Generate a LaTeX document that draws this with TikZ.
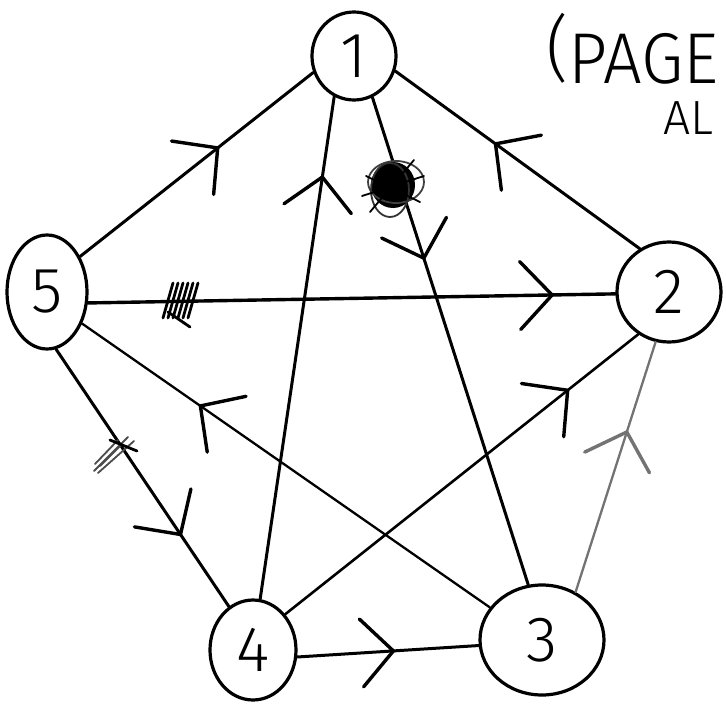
\documentclass[tikz,border=0pt]{standalone}
\usepackage{fontspec}
\newfontfamily\hand{Fira Sans Light}
\usetikzlibrary{shapes.geometric,decorations.markings}
\begin{document}
\begin{tikzpicture}[x=1pt,y=-1pt,
  vtx/.style={draw, ellipse, line width=3.2pt, inner sep=0pt,
    font=\hand\fontsize{64}{64}\selectfont},
  edge/.style={line width=3pt, line cap=round},
  midarrow/.style={postaction={decorate}, decoration={markings,
    mark=at position #1 with {\draw[solid, line width=3.4pt, line cap=round, line join=round]
      (-32pt,-34pt) -- (0pt,0pt) -- (-32pt,34pt);}}},
  scrib/.style={line width=1.8pt, line cap=round},
  hatch/.style={line width=2.8pt, line cap=round}
]
\useasboundingbox (0,0) rectangle (726,717);
\clip (0,0) rectangle (726,717);
\fill[white] (0,0) rectangle (726,717);

% vertices
\node[vtx, minimum width=84pt,  minimum height=88pt]  (n1) at (354,56)  {1};
\node[vtx, minimum width=104pt, minimum height=100pt] (n2) at (669,292) {2};
\node[vtx, minimum width=124pt, minimum height=110pt] (n3) at (542,640) {3};
\node[vtx, minimum width=86pt,  minimum height=100pt] (n4) at (253,650) {4};
\node[vtx, minimum width=80pt,  minimum height=114pt] (n5) at (47,292)  {5};

% directed edges, arrowheads part-way along
\draw[edge, midarrow=0.59] (n5.47) -- (n1.202);
\draw[edge, midarrow=0.59] (n2.124) -- (n1.340);
\draw[edge, midarrow=0.84] (n4.82) -- (n1.244);
\draw[edge, midarrow=0.33] (n1.294) -- (n3.104);
\draw[edge, line width=3.4pt, midarrow=0.88] (n5.345) -- (n2.182);
\draw[edge, line width=2.3pt, midarrow=0.71] (n3.148) -- (n5.318);
\draw[edge, midarrow=0.72] (n5.279) -- (n4.119);
\draw[edge, line width=2.6pt, midarrow=0.80] (n4.48) -- (n2.234);
\draw[edge, line width=2.3pt, draw=black!55, midarrow=0.64] (n3.55) -- (n2.255);
\draw[edge, midarrow=0.53] (n4.351) -- (n3.185);

% crossed-out marks
\fill (393,185) ellipse (22pt and 23pt);
\draw[scrib, black!75] (396,182) ellipse (28pt and 21pt);
\draw[scrib, black!80] (390,190) ellipse (19pt and 27pt);
\draw[scrib] (362,196) -- (424,176);
\draw[scrib] (370,212) -- (414,160);
\draw[scrib] (366,176) -- (420,202);
\foreach \i in {0,...,5}
  \draw[hatch] (163+\i*5,318) -- (173+\i*5,283);
\draw[hatch] (168,312) -- (190,327);
\draw[scrib, black!70] (94,471) -- (128,437);
\draw[scrib, black!70] (98,473) -- (134,441);
\draw[scrib, black!70] (100,466) -- (122,444);
\draw[scrib, black!70] (95,464) -- (118,440);
\draw[hatch] (110,440) -- (137,451);

% note in the corner
\node[anchor=base west, inner sep=0pt, xscale=0.95,
  font=\hand\fontsize{72}{72}\selectfont] (pg) at (546,84) {\raisebox{0.14em}{(}PAGE};
\node[anchor=base west, inner sep=0pt,
  font=\hand\fontsize{48}{48}\selectfont] (al) at (663,135) {AL};
\end{tikzpicture}
\end{document}
